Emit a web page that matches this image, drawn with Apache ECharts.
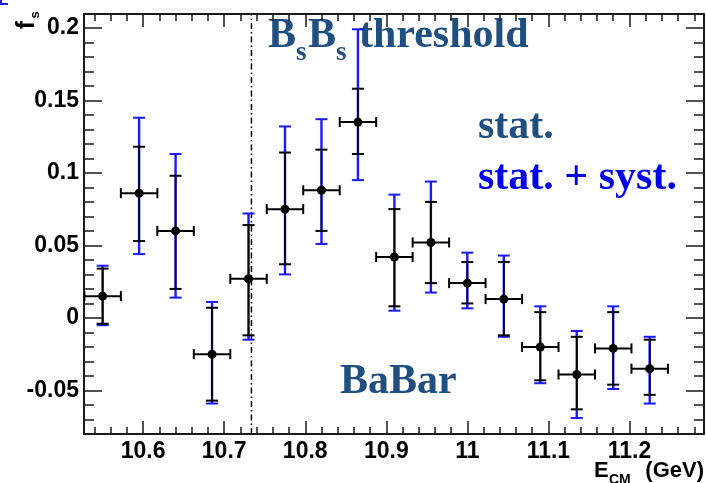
<!DOCTYPE html>
<html>
<head>
<meta charset="utf-8">
<style>
html,body{margin:0;padding:0;background:#fff;}
#chart{width:706px;height:483px;}
</style>
<script src="https://cdn.jsdelivr.net/npm/echarts@6/dist/echarts.min.js"></script>
</head>
<body>
<div id="chart"></div>
<script>
// ---- data ----
const energies = [10.55, 10.595, 10.64, 10.685, 10.73, 10.775, 10.82, 10.865, 10.91, 10.955, 11.0, 11.045, 11.09, 11.135, 11.18, 11.225];
const fsValues = [0.015, 0.086, 0.060, -0.025, 0.027, 0.075, 0.088, 0.135, 0.042, 0.052, 0.024, 0.013, -0.020, -0.039, -0.021, -0.035];
const statLow  = [-0.004, 0.053, 0.020, -0.057, -0.012, 0.037, 0.060, 0.113, 0.008, 0.024, 0.010, -0.012, -0.043, -0.063, -0.046, -0.053];
const statHigh = [0.034, 0.118, 0.098, 0.007, 0.064, 0.114, 0.116, 0.158, 0.075, 0.080, 0.0385, 0.0385, 0.004, -0.013, 0.004, -0.015];
const totLow   = [-0.005, 0.044, 0.014, -0.059, -0.015, 0.030, 0.051, 0.095, 0.005, 0.0175, 0.0066, -0.013, -0.045, -0.069, -0.049, -0.059];
const totHigh  = [0.036, 0.138, 0.113, 0.011, 0.072, 0.132, 0.137, 0.199, 0.085, 0.094, 0.045, 0.043, 0.008, -0.009, 0.008, -0.013];
const binHalfWidth = 0.0225;
const thresholdEnergy = 10.7336;

const xMin = 10.527, xMax = 11.292;
const yMin = -0.08, yMax = 0.2095;
const xTickValues = [10.6, 10.7, 10.8, 10.9, 11.0, 11.1, 11.2];
const xTickLabels = ['10.6', '10.7', '10.8', '10.9', '11', '11.1', '11.2'];
const yTickValues = [-0.05, 0, 0.05, 0.1, 0.15, 0.2];
const yTickLabels = ['-0.05', '0', '0.05', '0.1', '0.15', '0.2'];

// minor tick positions
function minorTicks(start, end, step, majors) {
  const out = [];
  for (let v = start; v <= end + 1e-9; v += step) {
    const r = Math.round(v * 1000) / 1000;
    if (!majors.some(m => Math.abs(m - r) < 1e-6)) out.push(r);
  }
  return out;
}
const xMinor = minorTicks(10.54, 11.28, 0.02, xTickValues);
const yMinor = minorTicks(-0.07, 0.2, 0.01, yTickValues);

const frameColor = '#1a1a1a';
const statColor = '#000000';
const systColor = '#1a1aff';
const darkBlue = '#1f4e80';

function labelFormatter(values, labels) {
  return function (v) {
    for (let i = 0; i < values.length; i++) if (Math.abs(values[i] - v) < 1e-6) return labels[i];
    return '';
  };
}

const tickLabelStyle = {fontFamily: 'Liberation Sans', fontWeight: 'bold', fontSize: 23, color: '#000'};

function makeX(position, major) {
  return {
    type: 'value', position: position, min: xMin, max: xMax,
    axisLine: {show: major, onZero: false, lineStyle: {color: frameColor, width: 2}},
    axisTick: {show: true, inside: true, length: major ? 13 : 7, customValues: major ? xTickValues : xMinor,
               lineStyle: {color: frameColor, width: 1.5}},
    axisLabel: (major && position === 'bottom') ? Object.assign({show: true, customValues: xTickValues, margin: 6,
               formatter: labelFormatter(xTickValues, xTickLabels)}, tickLabelStyle) : {show: false},
    splitLine: {show: false}
  };
}
function makeY(position, major) {
  return {
    type: 'value', position: position, min: yMin, max: yMax,
    axisLine: {show: major, onZero: false, lineStyle: {color: frameColor, width: 2}},
    axisTick: {show: true, inside: true, length: major ? 18 : 10, customValues: major ? yTickValues : yMinor,
               lineStyle: {color: frameColor, width: 1.5}},
    axisLabel: (major && position === 'left') ? Object.assign({show: true, customValues: yTickValues, margin: 5,
               formatter: labelFormatter(yTickValues, yTickLabels)}, tickLabelStyle) : {show: false},
    splitLine: {show: false}
  };
}

const pointData = energies.map((e, i) => [e, fsValues[i], statLow[i], statHigh[i], totLow[i], totHigh[i], binHalfWidth]);

function renderErrorBar(params, api) {
  const x = api.value(0), y = api.value(1);
  const c = api.coord([x, y]);
  const sLo = api.coord([x, api.value(2)])[1], sHi = api.coord([x, api.value(3)])[1];
  const tLo = api.coord([x, api.value(4)])[1], tHi = api.coord([x, api.value(5)])[1];
  const xl = api.coord([x - api.value(6), y])[0], xr = api.coord([x + api.value(6), y])[0];
  const cap = 6, endH = 5;
  const line = (x1, y1, x2, y2, color, w) => ({type: 'line', shape: {x1, y1, x2, y2}, style: {stroke: color, lineWidth: w}});
  return {
    type: 'group',
    children: [
      line(c[0], tHi, c[0], tLo, systColor, 2.4),
      line(c[0] - cap, tHi, c[0] + cap, tHi, systColor, 2),
      line(c[0] - cap, tLo, c[0] + cap, tLo, systColor, 2),
      line(c[0], sHi, c[0], sLo, statColor, 1.6),
      line(c[0] - cap, sHi, c[0] + cap, sHi, statColor, 2),
      line(c[0] - cap, sLo, c[0] + cap, sLo, statColor, 2),
      line(xl, c[1], xr, c[1], statColor, 2),
      line(xl, c[1] - endH, xl, c[1] + endH, statColor, 2),
      line(xr, c[1] - endH, xr, c[1] + endH, statColor, 2),
      {type: 'circle', shape: {cx: c[0], cy: c[1], r: 4.5}, style: {fill: '#000'}}
    ]
  };
}

const chart = echarts.init(document.getElementById('chart'), null, {renderer: 'canvas'});
chart.setOption({
  animation: false,
  backgroundColor: '#fff',
  grid: {left: 84, right: 2, top: 14, bottom: 49, containLabel: false, outerBoundsMode: 'none'},
  xAxis: [makeX('bottom', true), makeX('bottom', false), makeX('top', true), makeX('top', false)],
  yAxis: [makeY('left', true), makeY('left', false), makeY('right', true), makeY('right', false)],
  series: [
    {
      type: 'line', xAxisIndex: 0, yAxisIndex: 0, silent: true, symbol: 'none', z: 1,
      data: [[thresholdEnergy, yMin], [thresholdEnergy, yMax]],
      lineStyle: {color: '#000', width: 1.5, type: [6, 3, 1.5, 3]}
    },
    {
      type: 'custom', xAxisIndex: 0, yAxisIndex: 0, z: 3,
      data: pointData, renderItem: renderErrorBar
    }
  ],
  graphic: [
    {type: 'polyline', shape: {points: [[1, 0], [1, 4], [8, 4]]}, style: {stroke: '#1a1aff', lineWidth: 2, fill: null}},
    {type: 'text', x: 27, y: 25, rotation: Math.PI / 2, style: {text: 'f', font: 'bold 25px "Liberation Sans"', fill: '#000', align: 'center', verticalAlign: 'middle'}},
    {type: 'text', x: 35, y: 15, rotation: Math.PI / 2, style: {text: 's', font: 'bold 13px "Liberation Sans"', fill: '#000', align: 'center', verticalAlign: 'middle'}},
    {type: 'text', x: 268, y: 35.8, style: {text: 'B', font: 'bold 42px "Liberation Serif"', fill: darkBlue, align: 'left', verticalAlign: 'middle'}},
    {type: 'text', x: 296, y: 53, style: {text: 's', font: 'bold 27px "Liberation Serif"', fill: darkBlue, align: 'left', verticalAlign: 'middle'}},
    {type: 'text', x: 308, y: 35.8, style: {text: 'B', font: 'bold 42px "Liberation Serif"', fill: darkBlue, align: 'left', verticalAlign: 'middle'}},
    {type: 'text', x: 336, y: 53, style: {text: 's', font: 'bold 27px "Liberation Serif"', fill: darkBlue, align: 'left', verticalAlign: 'middle'}},
    {type: 'text', x: 359, y: 35.8, style: {text: 'threshold', font: 'bold 42px "Liberation Serif"', fill: darkBlue, align: 'left', verticalAlign: 'middle'}},
    {type: 'text', x: 478, y: 127.5, style: {text: 'stat.', font: 'bold 42px "Liberation Serif"', fill: darkBlue, align: 'left', verticalAlign: 'middle'}},
    {type: 'text', x: 478, y: 178.5, style: {text: 'stat. + syst.', font: 'bold 42px "Liberation Serif"', fill: '#0000ee', align: 'left', verticalAlign: 'middle'}},
    {type: 'text', x: 340, y: 382.5, style: {text: 'BaBar', font: 'bold 42px "Liberation Serif"', fill: darkBlue, align: 'left', verticalAlign: 'middle'}},
    {type: 'text', x: 594, y: 470.5, style: {text: 'E', font: 'bold 22px "Liberation Sans"', fill: '#000', align: 'left', verticalAlign: 'middle'}},
    {type: 'text', x: 609, y: 480, style: {text: 'CM', font: 'bold 14px "Liberation Sans"', fill: '#000', align: 'left', verticalAlign: 'middle'}},
    {type: 'text', x: 704, y: 470.5, style: {text: '(GeV)', font: 'bold 22px "Liberation Sans"', fill: '#000', align: 'right', verticalAlign: 'middle'}}
  ]
});
</script>
</body>
</html>
